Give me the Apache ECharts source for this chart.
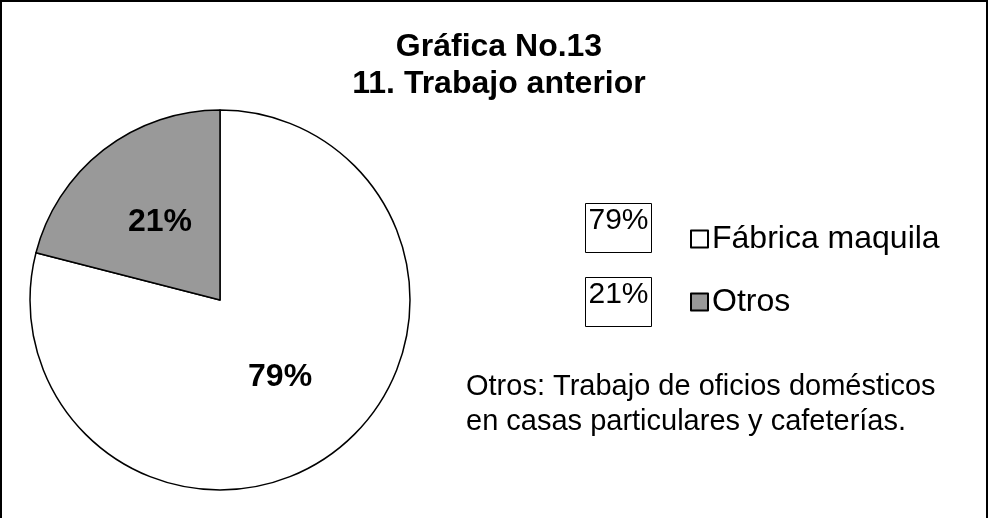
<!DOCTYPE html>
<html>
<head>
<meta charset="utf-8">
<script src="https://cdn.jsdelivr.net/npm/echarts@6/dist/echarts.min.js"></script>
<style>
  html, body { margin: 0; padding: 0; background: #fff; }
  #chart { width: 988px; height: 518px; }
</style>
</head>
<body>
<div id="chart"></div>
<script>
const categories = ['Fábrica maquila', 'Otros'];
const values = [79, 21];
const colors = ['#ffffff', '#999999'];
const titleLines = ['Gráfica No.13', '11. Trabajo anterior'];
const noteLines = ['Otros: Trabajo de oficios domésticos', 'en casas particulares y cafeterías.'];

const font = '"Liberation Sans", Arial, sans-serif';

const total = values.reduce((a, b) => a + b, 0);
const pctText = v => Math.round(v / total * 100) + '%';

const getOption = () => {
  // cajas con el porcentaje a la izquierda de la leyenda
  const pctBoxes = values.map((v, i) => ({
    type: 'group',
    left: 585,
    top: 203 + i * 74,
    children: [
      { type: 'rect', shape: { x: 0, y: 0, width: 66, height: 49 },
        style: { fill: '#fff', stroke: '#000', lineWidth: 1 } },
      { type: 'text', x: 33, y: 2,
        style: { text: pctText(v), font: '30px ' + font, fill: '#000', align: 'center', verticalAlign: 'top' } }
    ]
  }));

  return {
    animation: false,
    backgroundColor: '#fff',
    title: {
      text: titleLines.join('\n'),
      left: 494,
      top: 24,
      textAlign: 'center',
      textStyle: { fontFamily: font, fontSize: 32, fontWeight: 'bold', color: '#000', lineHeight: 37 }
    },
    legend: {
      orient: 'vertical',
      left: 690,
      top: 221,
      padding: 0,
      icon: 'rect',
      itemWidth: 17,
      itemHeight: 17,
      itemGap: 27,
      itemStyle: { borderWidth: 2 },
      textStyle: { fontFamily: font, fontSize: 32, color: '#000', lineHeight: 36, padding: [0, 0, 0, -1] },
      data: categories
    },
    graphic: [
      { type: 'rect', shape: { x: 1, y: 1, width: 986, height: 530 },
        style: { fill: 'none', stroke: '#000', lineWidth: 2 }, silent: true },
      ...pctBoxes,
      { type: 'text', left: 466, top: 369,
        style: { text: noteLines.join('\n'), font: '29px ' + font, fill: '#000', lineHeight: 35 } }
    ],
    series: [{
      type: 'pie',
      center: [220, 300],
      radius: 190,
      startAngle: 90,
      clockwise: true,
      itemStyle: { borderColor: '#000', borderWidth: 1.5 },
      label: {
        position: 'inside',
        formatter: '{d}%',
        fontFamily: font,
        fontSize: 32,
        fontWeight: 'bold',
        color: '#000'
      },
      labelLine: { show: false },
      emphasis: { disabled: true },
      data: categories.map((c, i) => ({ name: c, value: values[i], itemStyle: { color: colors[i] } }))
    }]
  };
};

const chart = echarts.init(document.getElementById('chart'));
chart.setOption(getOption());
</script>
</body>
</html>
